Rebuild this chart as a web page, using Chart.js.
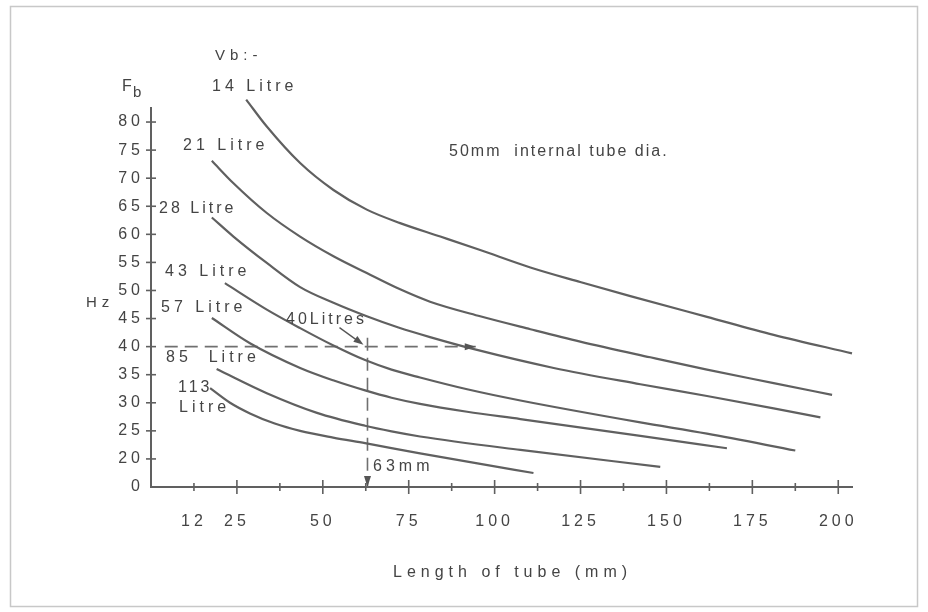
<!DOCTYPE html>
<html>
<head>
<meta charset="utf-8">
<title>Fb vs tube length</title>
<script src="https://cdn.jsdelivr.net/npm/chart.js@4.4.1/dist/chart.umd.min.js"></script>
<style>
  html, body { margin: 0; padding: 0; background: #fff; }
  #wrap { width: 928px; height: 612px; }
</style>
</head>
<body>
<div id="wrap"><canvas id="tubeChart" width="928" height="612"></canvas></div>
<script>
// port length (mm) against box tuning Fb (Hz), one curve per box volume Vb
const volumeLabels = ['14 Litre', '21 Litre', '28 Litre', '43 Litre', '57 Litre', '85 Litre', '113 Litre'];

const len14 = [27.7, 33.7, 43.4, 53.1, 62.8, 72.5, 84.2, 95.8, 110.4, 124.9, 139.5, 161.8, 181.2, 204];
const fb14 = [84.0, 79.2, 72.7, 67.9, 64.4, 62.0, 59.6, 57.2, 54.1, 51.5, 49.0, 45.3, 42.1, 38.8];

const len21 = [17.7, 24.0, 33.7, 43.4, 53.1, 62.8, 72.5, 81.2, 95.8, 110.4, 124.9, 145.3, 161.8, 181.2, 198.2];
const fb21 = [73.1, 69.1, 63.8, 59.6, 56.1, 53.1, 50.2, 48.0, 45.4, 43.1, 40.9, 38.1, 35.9, 33.5, 31.4];

const len28 = [17.7, 24.0, 33.7, 43.4, 53.1, 62.8, 72.0, 81.2, 94.3, 117.2, 142.4, 161.8, 181.2, 194.8];
const fb28 = [63.0, 59.6, 54.9, 50.6, 47.8, 45.4, 43.4, 41.7, 39.5, 36.2, 33.3, 31.2, 29.0, 27.4];

const len43 = [21.5, 33.7, 43.4, 53.1, 62.3, 70.0, 78.3, 92.0, 107.5, 142.4, 161.8, 187.5];
const fb43 = [51.3, 46.6, 43.3, 40.2, 37.6, 35.9, 34.5, 32.4, 30.4, 26.5, 24.5, 21.5];

const len57 = [17.7, 28.8, 43.4, 53.0, 62.3, 70.0, 78.3, 92.0, 107.5, 142.4, 167.6];
const fb57 = [45.1, 40.6, 36.2, 34.0, 32.2, 30.9, 29.8, 28.4, 27.1, 24.1, 21.9];

const len85 = [19.1, 33.7, 48.3, 62.3, 70.0, 78.3, 107.5, 148.2];
const fb85 = [36.0, 31.7, 28.2, 25.9, 24.9, 24.0, 21.6, 18.6];

const len113 = [17.2, 23.0, 28.8, 36.0, 43.4, 53.0, 62.3, 78.3, 95.0, 111.3];
const fb113 = [32.6, 30.0, 28.1, 26.3, 25.0, 23.8, 22.8, 21.0, 19.2, 17.5];

// axis ticks (the bottom of the Hz scale is broken, shown as 0)
const xTickValues = [12.5, 25, 37.5, 50, 62.5, 75, 87.5, 100, 112.5, 125, 137.5, 150, 162.5, 175, 187.5, 200];
const xTickLabels = ['12', '25', '', '50', '', '75', '', '100', '', '125', '', '150', '', '175', '', '200'];
const yTickValues = [15, 20, 25, 30, 35, 40, 45, 50, 55, 60, 65, 70, 75, 80];
const yTickLabels = ['0', '20', '25', '30', '35', '40', '45', '50', '55', '60', '65', '70', '75', '80'];

// worked example: 40 litre box tuned to 40 Hz needs 63 mm
const exampleFb = 40;
const exampleLen = 63;
const guideLenX = [4, 94.5];
const guideFbY = [41.6, 15];

const INK = '#444';
const LINE = '#606060';
const FONT = 'Liberation Sans, Arial, sans-serif';

const pts = (xs, ys) => xs.map((x, i) => ({ x: x, y: ys[i] }));

const curveSets = [
  [len14, fb14], [len21, fb21], [len28, fb28], [len43, fb43],
  [len57, fb57], [len85, fb85], [len113, fb113]
].map((c, i) => ({
  label: volumeLabels[i],
  data: pts(c[0], c[1]),
  borderColor: LINE,
  borderWidth: 2.2,
  pointRadius: 0,
  showLine: true,
  cubicInterpolationMode: 'monotone',
  clip: false
}));

const guideSets = [
  {
    label: 'fb guide',
    data: pts(guideLenX, [exampleFb, exampleFb]),
    borderColor: '#707070', borderWidth: 1.6, borderDash: [13, 7],
    pointRadius: 0, showLine: true, clip: false
  },
  {
    label: 'length guide',
    data: pts([exampleLen, exampleLen], guideFbY),
    borderColor: '#707070', borderWidth: 1.6, borderDash: [13, 7],
    pointRadius: 0, showLine: true, clip: false
  }
];

function arrowHead(ctx, tipX, tipY, angle, len, half) {
  ctx.save();
  ctx.translate(tipX, tipY);
  ctx.rotate(angle);
  ctx.beginPath();
  ctx.moveTo(0, 0);
  ctx.lineTo(-len, -half);
  ctx.lineTo(-len, half);
  ctx.closePath();
  ctx.fill();
  ctx.restore();
}

function spaced(ctx, text, x, y, size, spacing) {
  ctx.font = size + 'px ' + FONT;
  ctx.letterSpacing = spacing + 'px';
  ctx.fillText(text, x, y);
}

const annotate = {
  id: 'annotate',
  beforeDraw(chart) {
    // tick numbers are lettered with wide spacing
    chart.ctx.letterSpacing = '4px';
  },
  afterDraw(chart) {
    const ctx = chart.ctx;
    const xs = chart.scales.x;
    const ys = chart.scales.y;
    const area = chart.chartArea;
    ctx.save();

    // frame
    ctx.strokeStyle = '#c8c8c8';
    ctx.lineWidth = 1.5;
    ctx.strokeRect(10.5, 6.5, 907, 600);

    // cross ticks on both axes
    ctx.strokeStyle = LINE;
    ctx.lineWidth = 1.6;
    xTickValues.forEach(v => {
      const px = xs.getPixelForValue(v);
      const h = v % 25 === 0 ? 7 : 4;
      ctx.beginPath();
      ctx.moveTo(px, area.bottom - h);
      ctx.lineTo(px, area.bottom + h);
      ctx.stroke();
    });
    yTickValues.forEach(v => {
      if (v === yTickValues[0]) return;
      const py = ys.getPixelForValue(v);
      ctx.beginPath();
      ctx.moveTo(area.left - 5, py);
      ctx.lineTo(area.left + 5, py);
      ctx.stroke();
    });

    // arrow heads of the worked example
    ctx.fillStyle = '#555';
    arrowHead(ctx, xs.getPixelForValue(guideLenX[1]), ys.getPixelForValue(exampleFb), 0, 11, 3.5);
    arrowHead(ctx, xs.getPixelForValue(exampleLen), ys.getPixelForValue(guideFbY[1]), Math.PI / 2, 11, 3.5);
    const ix = xs.getPixelForValue(exampleLen);
    const iy = ys.getPixelForValue(exampleFb);
    ctx.strokeStyle = '#555';
    ctx.lineWidth = 1.3;
    ctx.beginPath();
    ctx.moveTo(ix - 28, iy - 19);
    ctx.lineTo(ix - 10, iy - 6);
    ctx.stroke();
    arrowHead(ctx, ix - 4, iy - 2, Math.atan2(17, 24), 10, 3.5);

    // lettering
    ctx.fillStyle = INK;
    ctx.textBaseline = 'middle';
    ctx.textAlign = 'left';
    spaced(ctx, 'Vb:-', 215, 56, 15, 5);
    spaced(ctx, 'F', 122, 87, 16, 0);
    spaced(ctx, 'b', 133, 93, 15, 0);
    spaced(ctx, 'Hz', 86, 303, 15, 5);

    spaced(ctx, '14 Litre', 212, 87, 16, 4);
    spaced(ctx, '21 Litre', 183, 146, 16, 4);
    spaced(ctx, '28 Litre', 159, 209, 16, 3);
    spaced(ctx, '43 Litre', 165, 272, 16, 4);
    spaced(ctx, '57 Litre', 161, 308, 16, 4);
    spaced(ctx, '85  Litre', 166, 358, 16, 4);
    spaced(ctx, '113', 178, 388, 16, 3);
    spaced(ctx, 'Litre', 179, 408, 16, 4);

    spaced(ctx, '40Litres', 286, 320, 16, 3);
    spaced(ctx, '63mm', 373, 467, 16, 4);
    spaced(ctx, '50mm  internal tube dia.', 449, 152, 16, 2);
    spaced(ctx, 'Length of tube (mm)', 393, 573, 16, 5);

    ctx.restore();
    ctx.letterSpacing = '0px';
  }
};

Chart.defaults.font.family = FONT;
Chart.defaults.color = INK;

new Chart(document.getElementById('tubeChart'), {
  type: 'scatter',
  data: { datasets: curveSets.concat(guideSets) },
  options: {
    responsive: false,
    animation: false,
    events: [],
    layout: { padding: { top: 108, right: 76, left: 0, bottom: 0 } },
    plugins: { legend: { display: false }, tooltip: { enabled: false } },
    scales: {
      x: {
        type: 'linear',
        min: 0,
        max: 204,
        afterBuildTicks: axis => { axis.ticks = xTickValues.map(v => ({ value: v })); },
        afterFit: axis => { axis.height = 125; },
        ticks: {
          autoSkip: false,
          maxRotation: 0,
          padding: 25,
          font: { size: 16 },
          color: INK,
          callback: (v, i) => xTickLabels[i]
        },
        grid: { display: false, drawTicks: false },
        border: { display: true, color: LINE, width: 2 }
      },
      y: {
        type: 'linear',
        min: 15,
        max: 82.5,
        afterBuildTicks: axis => { axis.ticks = yTickValues.map(v => ({ value: v })); },
        afterFit: axis => { axis.width = 151; },
        ticks: {
          padding: 7,
          font: { size: 16 },
          color: INK,
          callback: (v, i) => yTickLabels[i]
        },
        grid: { display: false, drawTicks: false },
        border: { display: true, color: LINE, width: 2 }
      }
    }
  },
  plugins: [annotate]
});
</script>
</body>
</html>
